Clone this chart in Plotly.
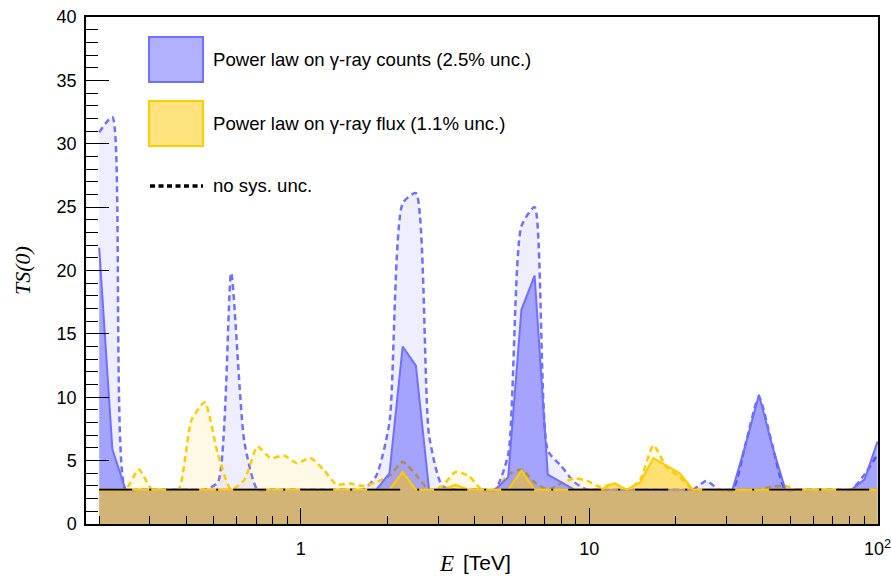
import plotly.graph_objects as go

# ---------------- data ----------------
energy_tev = [0.2, 0.2222, 0.2469, 0.2743, 0.3048, 0.3387, 0.3763, 0.4181, 0.4646, 0.5162,
              0.5735, 0.6372, 0.708, 0.7867, 0.8741, 0.9712, 1.079, 1.199, 1.332, 1.480,
              1.645, 1.827, 2.030, 2.256, 2.507, 2.785, 3.095, 3.438, 3.820, 4.245,
              4.716, 5.240, 5.822, 6.469, 7.188, 7.987, 8.874, 9.860, 10.96, 12.17,
              13.53, 15.03, 16.70, 18.55, 20.61, 22.91, 25.45, 28.28, 31.42, 34.91,
              38.79, 43.10, 47.89, 53.21, 59.12, 65.69, 72.99, 81.10, 90.11, 100.0]

ts_counts_sys = [21.8, 5.9, 2.71, 2.71, 2.71, 2.71, 2.71, 2.71, 2.71, 2.71,
                 2.71, 2.71, 2.71, 2.71, 2.71, 2.71, 2.71, 2.71, 2.71, 2.71,
                 2.71, 2.71, 4.0, 14.0, 12.5, 2.71, 2.71, 2.71, 2.71, 2.71,
                 2.71, 3.7, 16.9, 19.6, 3.9, 3.3, 2.71, 2.71, 2.71, 2.71,
                 2.71, 2.71, 2.71, 2.71, 2.71, 2.71, 2.71, 2.71, 2.71, 6.3,
                 10.2, 6.2, 2.71, 2.71, 2.71, 2.71, 2.71, 2.71, 3.5, 6.5]

ts_counts_nosys = [30.9, 32.1, 2.71, 2.71, 2.71, 2.71, 2.71, 2.71, 2.71, 3.3,
                   19.8, 6.5, 2.71, 2.71, 2.71, 2.71, 2.71, 2.71, 2.71, 2.71,
                   2.71, 3.8, 8.0, 25.3, 26.1, 7.0, 3.0, 2.71, 2.71, 2.71,
                   2.71, 5.5, 23.5, 25.0, 5.8, 4.6, 3.3, 2.71, 2.71, 2.71,
                   2.71, 2.71, 2.71, 2.71, 2.71, 2.71, 3.4, 2.71, 2.71, 6.4,
                   10.0, 6.3, 2.71, 2.71, 2.71, 2.71, 2.71, 2.71, 3.9, 5.5]

ts_flux_sys = [2.71, 2.71, 2.71, 2.71, 2.71, 2.71, 2.71, 2.71, 2.71, 2.71,
               2.71, 2.71, 2.71, 2.71, 2.71, 2.71, 2.71, 2.71, 2.71, 2.71,
               2.71, 2.71, 2.71, 4.1, 2.71, 2.71, 2.71, 3.1, 2.71, 2.71,
               2.71, 2.71, 4.2, 2.71, 2.71, 2.71, 2.71, 2.71, 2.71, 3.2,
               2.71, 3.3, 5.2, 4.6, 4.0, 2.71, 2.71, 2.71, 2.71, 2.71,
               2.71, 2.71, 2.71, 2.71, 2.71, 2.71, 2.71, 2.71, 2.71, 2.71]

ts_flux_nosys = [2.71, 2.71, 2.71, 4.3, 2.71, 2.71, 2.71, 8.2, 9.6, 5.5,
                 2.71, 3.5, 6.1, 5.2, 5.4, 4.8, 5.2, 4.3, 3.1, 3.2,
                 3.0, 3.3, 3.8, 4.9, 3.9, 2.71, 3.0, 4.1, 3.8, 2.71,
                 2.71, 3.9, 4.3, 3.3, 2.71, 3.2, 3.6, 3.4, 2.9, 3.2,
                 2.71, 3.5, 6.2, 4.5, 3.7, 2.71, 2.71, 2.71, 2.71, 2.71,
                 2.71, 2.95, 3.0, 2.71, 2.71, 2.71, 2.71, 2.71, 2.71, 2.71]

ts_threshold = 2.71

legend_labels = ["Power law on γ-ray counts (2.5% unc.)",
                 "Power law on γ-ray flux (1.1% unc.)",
                 "no sys. unc."]

x_tick_vals = [1, 10, 100]
x_tick_text = ["1", "10", "10<sup>2</sup>"]
x_minor_vals = [0.2, 0.3, 0.4, 0.5, 0.6, 0.7, 0.8, 0.9,
                2, 3, 4, 5, 6, 7, 8, 9, 20, 30, 40, 50, 60, 70, 80, 90]

# ---------------- styles ----------------
BLUE_LINE = "#7070ff"
BLUE_FILL = "rgba(0,0,255,0.31)"
BLUE_FILL_LIGHT = "rgba(0,0,255,0.065)"
YEL_LINE = "#ffcc00"
YEL_FILL = "rgba(255,200,0,0.5)"
YEL_FILL_LIGHT = "rgba(255,200,0,0.1)"

fig = go.Figure()

fig.add_trace(go.Scatter(x=energy_tev, y=ts_counts_nosys, mode="lines", fill="tozeroy",
                         fillcolor=BLUE_FILL_LIGHT,
                         line=dict(color=BLUE_LINE, width=2.5, dash="6px,4px",
                                   shape="spline", smoothing=0.6),
                         showlegend=False))
fig.add_trace(go.Scatter(x=energy_tev, y=ts_flux_nosys, mode="lines", fill="tozeroy",
                         fillcolor=YEL_FILL_LIGHT,
                         line=dict(color=YEL_LINE, width=2.5, dash="6px,4px",
                                   shape="spline", smoothing=0.6),
                         showlegend=False))
fig.add_trace(go.Scatter(x=energy_tev, y=ts_counts_sys, mode="lines", fill="tozeroy",
                         fillcolor=BLUE_FILL, line=dict(color=BLUE_LINE, width=2),
                         showlegend=False))
fig.add_trace(go.Scatter(x=energy_tev, y=ts_flux_sys, mode="lines", fill="tozeroy",
                         fillcolor=YEL_FILL, line=dict(color=YEL_LINE, width=2),
                         showlegend=False))
fig.add_trace(go.Scatter(x=[energy_tev[0], energy_tev[-1]], y=[ts_threshold, ts_threshold],
                         mode="lines",
                         line=dict(color="black", width=1.6, dash="33px,17px,2px,15px"),
                         showlegend=False))

# ---------------- custom legend ----------------
def px_x(px):
    return (px - 86) / 791.7


def px_y(py):
    return (524 - py) / 507.0


fig.add_shape(type="rect", xref="paper", yref="paper",
              x0=px_x(149), x1=px_x(203), y0=px_y(82), y1=px_y(37),
              fillcolor=BLUE_FILL, line=dict(color=BLUE_LINE, width=2))
fig.add_shape(type="rect", xref="paper", yref="paper",
              x0=px_x(149), x1=px_x(203), y0=px_y(146), y1=px_y(101),
              fillcolor=YEL_FILL, line=dict(color=YEL_LINE, width=2))
fig.add_shape(type="line", xref="paper", yref="paper",
              x0=px_x(150), x1=px_x(203), y0=px_y(186), y1=px_y(186),
              line=dict(color="black", width=3.5, dash="5px,3.5px"))
for label, py in zip(legend_labels, [60, 124, 185]):
    fig.add_annotation(xref="paper", yref="paper", x=px_x(211), y=px_y(py),
                       text=label, showarrow=False, xanchor="left", yanchor="middle",
                       font=dict(family="Liberation Sans, Arial", size=18.6, color="black"))

# ---------------- axis titles ----------------
fig.add_annotation(xref="paper", yref="paper", x=px_x(22), y=px_y(270),
                   text="<i>TS(0)</i>", showarrow=False, textangle=-90,
                   xanchor="center", yanchor="middle",
                   font=dict(family="Liberation Serif, Times New Roman", size=22, color="black"))
fig.add_annotation(xref="paper", yref="paper", x=px_x(437), y=px_y(563),
                   text="<i>E</i>", showarrow=False, xanchor="left", yanchor="middle",
                   font=dict(family="Liberation Serif, Times New Roman", size=23, color="black"))
fig.add_annotation(xref="paper", yref="paper", x=px_x(461), y=px_y(562),
                   text="[TeV]", showarrow=False, xanchor="left", yanchor="middle",
                   font=dict(family="Liberation Sans, Arial", size=21, color="black"))

fig.update_layout(
    width=891, height=576,
    margin=dict(l=86, r=13, t=17, b=52, autoexpand=False),
    paper_bgcolor="white", plot_bgcolor="white",
    showlegend=False,
    font=dict(family="Liberation Sans, Arial", size=18, color="black"),
)
fig.update_xaxes(type="log", range=[-0.7447, 2.0015], showgrid=False, zeroline=False,
                 showline=True, linecolor="black", linewidth=1.5, mirror=True,
                 ticks="inside", ticklen=16, tickwidth=1.3, tickcolor="black",
                 tickmode="array", tickvals=x_tick_vals, ticktext=x_tick_text,
                 ticklabelstandoff=8, ticklabeloverflow="allow", automargin=False,
                 minor=dict(tickmode="array", tickvals=x_minor_vals, ticks="inside",
                            ticklen=8, tickwidth=1.3, tickcolor="black", showgrid=False),
                 layer="above traces")
fig.update_yaxes(range=[0, 40], showgrid=False, zeroline=False,
                 showline=True, linecolor="black", linewidth=1.5, mirror=True,
                 ticks="inside", ticklen=23, tickwidth=1.3, tickcolor="black",
                 tickmode="linear", tick0=0, dtick=5, ticklabelstandoff=4, automargin=False,
                 minor=dict(dtick=1, ticks="inside", ticklen=12, tickwidth=1.3,
                            tickcolor="black", showgrid=False),
                 layer="above traces")

fig.write_html("out.html", config={"displayModeBar": False},
               post_script="document.body.style.margin='0px';document.body.style.padding='0px';")
